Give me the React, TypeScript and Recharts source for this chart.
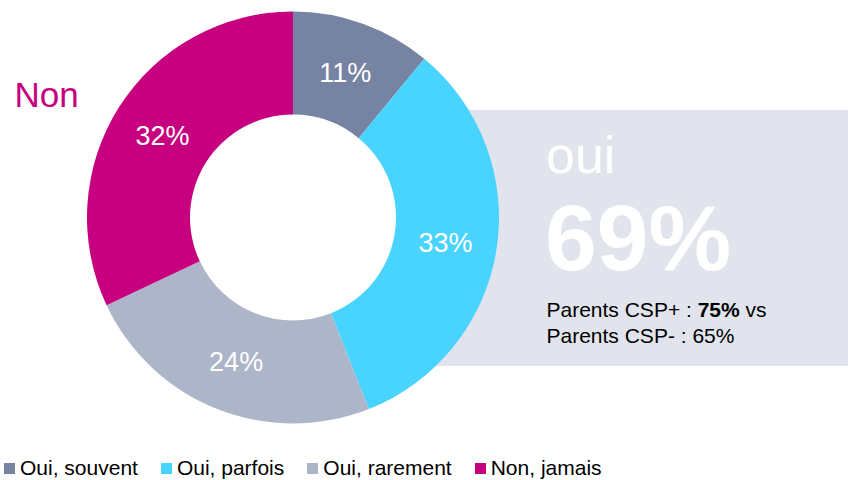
import React from 'react';
import { PieChart, Pie, Cell } from 'recharts';

// data
const categories = ['Oui, souvent', 'Oui, parfois', 'Oui, rarement', 'Non, jamais'];
const values = [11, 33, 24, 32];
const colors = ['#7683A3', '#48D4FE', '#ADB5C8', '#C6007E'];

const ouiTotal = '69%';
const cspPlus = '75%';
const cspMinus = '65%';

const FONT = '"Liberation Sans", Arial, Helvetica, sans-serif';
const RADIAN = Math.PI / 180;

const pieData = categories.map((name, i) => ({ name, value: values[i] }));

interface LabelProps {
  cx: number;
  cy: number;
  midAngle: number;
  innerRadius: number;
  outerRadius: number;
  value: number;
}

function SliceLabel({ cx, cy, midAngle, innerRadius, outerRadius, value }: LabelProps) {
  const r = (innerRadius + outerRadius) / 2;
  const x = cx + r * Math.cos(-midAngle * RADIAN);
  const y = cy + r * Math.sin(-midAngle * RADIAN);
  return (
    <text x={x} y={y + 10} fill="#fff" textAnchor="middle" fontSize={27} fontFamily={FONT}>
      {value}%
    </text>
  );
}

export default function App() {
  return (
    <div style={{ position: 'absolute', left: 0, top: 0, width: 848, height: 480, background: '#fff', fontFamily: FONT }}>
      {/* grey panel behind the donut */}
      <div style={{ position: 'absolute', left: 420, top: 110, width: 428, height: 256, background: '#E1E4EC' }} />

      <div style={{ position: 'absolute', left: 0, top: 0 }}>
        <PieChart width={848} height={480} margin={{ top: 0, right: 0, bottom: 0, left: 0 }}>
          <Pie
            data={pieData}
            dataKey="value"
            nameKey="name"
            cx={293}
            cy={217.5}
            innerRadius={103}
            outerRadius={206}
            startAngle={90}
            endAngle={-270}
            stroke="none"
            labelLine={false}
            label={SliceLabel}
            isAnimationActive={false}
          >
            {pieData.map((entry, index) => (
              <Cell key={`cell-${index}`} fill={colors[index]} />
            ))}
          </Pie>
        </PieChart>
      </div>

      <svg width={848} height={480} style={{ position: 'absolute', left: 0, top: 0, pointerEvents: 'none' }}>
        <text x={14.5} y={107} fontSize={35} fill="#C6007E" fontFamily={FONT}>Non</text>
        <text x={546} y={173} fontSize={52} fill="#fff" fontFamily={FONT}>oui</text>
        <text x={545} y={270} fontSize={93} fontWeight="bold" fill="#fff" fontFamily={FONT}>{ouiTotal}</text>
        <text x={546.5} y={317} fontSize={21} fill="#000" fontFamily={FONT}>
          Parents CSP+ : <tspan fontWeight="bold">{cspPlus}</tspan> vs
        </text>
        <text x={546.5} y={343} fontSize={21} fill="#000" fontFamily={FONT}>
          Parents CSP- : {cspMinus}
        </text>
      </svg>

      {/* legend */}
      <div style={{ position: 'absolute', left: 4, top: 456, height: 24, display: 'flex', alignItems: 'center', fontSize: 21, lineHeight: '24px', color: '#000' }}>
        {categories.map((c, i) => (
          <div key={c} style={{ display: 'flex', alignItems: 'center', marginRight: 23 }}>
            <span style={{ display: 'inline-block', width: 11, height: 11, background: colors[i], marginRight: 5 }} />
            <span>{c}</span>
          </div>
        ))}
      </div>
    </div>
  );
}
